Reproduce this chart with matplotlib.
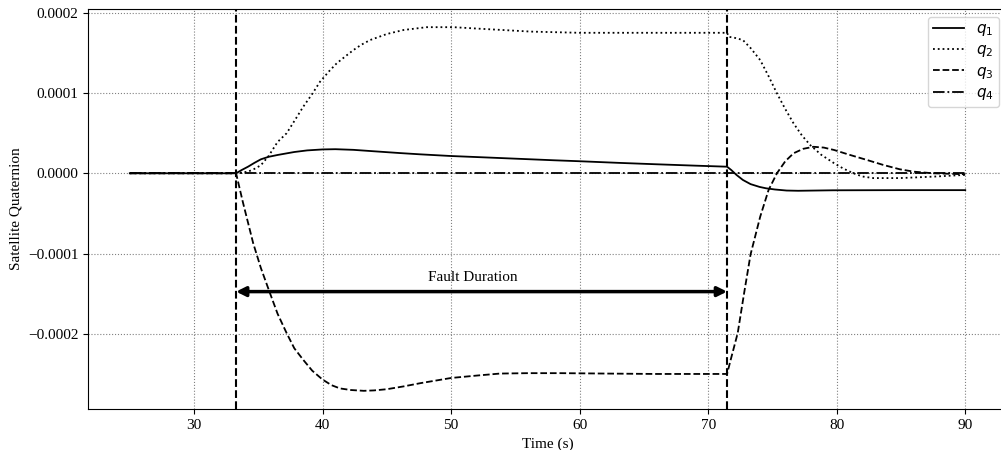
import numpy as np
import matplotlib
matplotlib.use("Agg")
import matplotlib.pyplot as plt

plt.rcParams['font.family'] = ['Liberation Serif', 'DejaVu Serif']
plt.rcParams['mathtext.fontset'] = 'dejavusans'

# ---- data (values in units of 1e-5) ----
t_q1 = [25, 33.27, 33.7, 34.2, 34.7, 35.2, 35.8, 36.5, 37.2, 37.8, 38.8, 40.0, 41.0, 42.4, 44.0, 46.0, 47.6,
        50.0, 52.3, 55.0, 58.0, 60.0, 63.0, 66.0, 69.0, 71.47, 71.8, 72.2, 72.7, 73.3,
        74.0, 74.5, 75.2, 76.1, 77.0, 79.7, 85.0, 90.0]
q1_e5 = [0, 0, 0.4, 0.82, 1.3, 1.74, 2.05, 2.28, 2.48, 2.65, 2.85, 2.97, 3.0, 2.92, 2.74, 2.52, 2.36,
         2.15, 2.0, 1.82, 1.62, 1.5, 1.3, 1.12, 0.95, 0.82, 0.4, -0.2, -0.83, -1.35,
         -1.7, -1.87, -2.02, -2.15, -2.18, -2.12, -2.1, -2.1]

t_q2 = [25, 33.27, 34.2, 34.7, 35.2, 35.8, 36.5, 37.2, 37.8, 38.5, 39.2, 39.8, 40.5, 41.1,
        41.8, 42.4, 43.0, 43.7, 44.4, 45.0, 46.3, 48.1, 50.2, 52.3, 54.0, 56.2, 60.0, 65.0,
        71.47, 71.6, 72.0, 72.7, 73.3, 74.05, 74.7, 75.35, 76.0, 76.65, 77.3, 77.95, 78.8,
        79.8, 80.5, 81.3, 82.0, 82.85, 84.9, 87.5, 90.0]
q2_e5 = [0, 0, 0.2, 0.55, 1.0, 2.15, 3.9, 4.98, 6.5, 8.3, 9.9, 11.4, 12.7, 13.7,
         14.6, 15.35, 16.0, 16.6, 17.0, 17.35, 17.85, 18.2, 18.2, 18.0, 17.85, 17.65, 17.5, 17.5,
         17.5, 17.0, 16.9, 16.6, 15.6, 14.1, 12.1, 9.96, 8.0, 6.2, 4.7, 3.5, 2.3,
         1.25, 0.6, 0.0, -0.4, -0.6, -0.6, -0.42, -0.2]

t_q3 = [25, 33.27, 33.8, 34.6, 35.2, 35.9, 36.5, 37.2, 37.8, 38.5, 39.2, 40.0, 40.7, 41.35,
        42.2, 43.2, 44.0, 45.0, 46.3, 47.6, 50.0, 52.0, 53.8, 56.0, 58.5, 62.0, 66.0, 71.47,
        71.75, 72.3, 72.8, 73.3, 74.05, 74.7, 75.35, 76.0, 76.65, 77.4, 78.2, 79.0, 79.8,
        81.0, 82.35, 83.6, 84.9, 86.0, 87.5, 90.0]
q3_e5 = [0, 0, -3.6, -8.7, -11.8, -14.9, -17.5, -19.9, -21.8, -23.25, -24.6, -25.7, -26.4, -26.8,
         -27.0, -27.1, -27.05, -26.9, -26.55, -26.15, -25.5, -25.2, -24.95, -24.9, -24.9, -24.95, -25.0, -25.0,
         -23.25, -19.9, -14.9, -10.1, -5.4, -2.08, 0.0, 1.5, 2.5, 3.05, 3.3, 3.2, 2.9,
         2.3, 1.66, 1.05, 0.5, 0.2, 0.0, -0.12]

t_q4 = [25, 90]
q4_e5 = [0, 0]

fault_start = 33.27
fault_end = 71.47
arrow_y = -1.474e-4
label_text = "Fault Duration"

scale = 1e-5

fig = plt.figure(figsize=(10.01, 4.5), dpi=100)
ax = fig.add_axes([88 / 1001, 1 - 409 / 450, (1007 - 88) / 1001, (409 - 9) / 450])

ax.plot(t_q1, np.array(q1_e5) * scale, color='black', lw=1.3, ls='-', label=r'$q_1$')
ax.plot(t_q2, np.array(q2_e5) * scale, color='black', lw=1.3, ls=':', label=r'$q_2$')
ax.plot(t_q3, np.array(q3_e5) * scale, color='black', lw=1.3, ls='--', label=r'$q_3$')
ax.plot(t_q4, np.array(q4_e5) * scale, color='black', lw=1.3, ls='-.', label=r'$q_4$')

ax.axvline(fault_start, color='black', ls='--', lw=1.5)
ax.axvline(fault_end, color='black', ls='--', lw=1.5)

ax.annotate('', xy=(fault_start, arrow_y), xytext=(fault_end, arrow_y),
            arrowprops=dict(arrowstyle='<|-|>', color='black', lw=2.5,
                            mutation_scale=14, shrinkA=0, shrinkB=0))
ax.text(51.7, -1.30e-4, label_text, ha='center', va='center', fontsize=11)

ax.set_yticks([-2e-4, -1e-4, 0, 1e-4, 2e-4])
ax.set_yticklabels(['\u22120.0002', '\u22120.0001', '0.0000', '0.0001', '0.0002'])
ax.tick_params(labelsize=11)
ax.grid(True, ls=':', color='gray', lw=0.8)
ax.set_xlabel('Time (s)', fontsize=11)
ax.set_ylabel('Satellite Quaternion', fontsize=11)

ax.legend(loc='upper right', fontsize=11, labelspacing=0.35, borderpad=0.35)

fig.savefig('out.png', dpi=100)
